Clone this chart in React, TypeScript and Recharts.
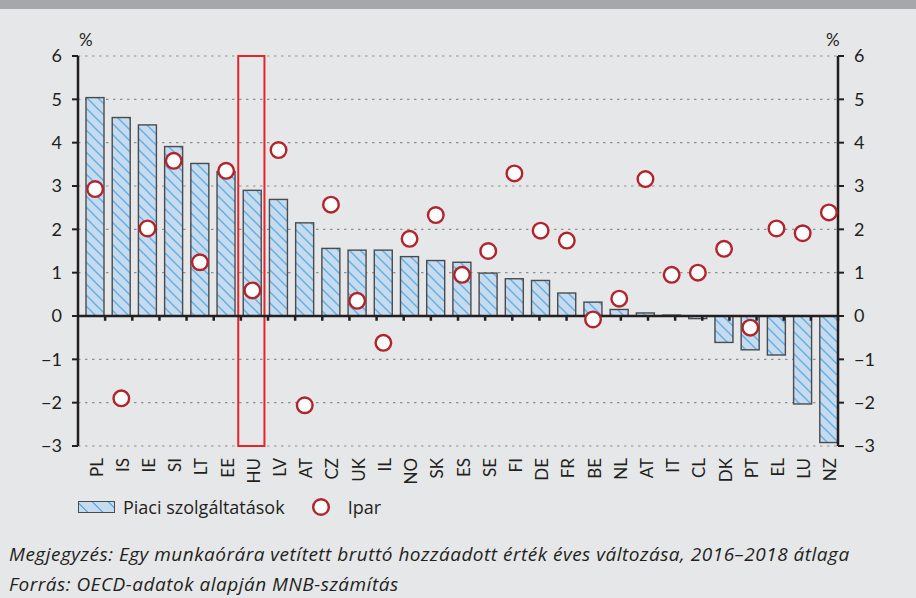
import React from 'react';
import {
  ComposedChart,
  Bar,
  Scatter,
  XAxis,
  YAxis,
  CartesianGrid,
  ReferenceLine,
  ReferenceArea,
} from 'recharts';

// ---- data ----
const categories = ['PL', 'IS', 'IE', 'SI', 'LT', 'EE', 'HU', 'LV', 'AT', 'CZ', 'UK', 'IL', 'NO', 'SK', 'ES', 'SE', 'FI', 'DE', 'FR', 'BE', 'NL', 'AT', 'IT', 'CL', 'DK', 'PT', 'EL', 'LU', 'NZ'];
const piaciSzolgaltatasok = [5.04, 4.58, 4.41, 3.91, 3.52, 3.33, 2.9, 2.69, 2.15, 1.56, 1.52, 1.52, 1.37, 1.28, 1.24, 0.99, 0.86, 0.82, 0.53, 0.32, 0.15, 0.07, 0.02, -0.06, -0.61, -0.78, -0.9, -2.03, -2.92];
const ipar = [2.93, -1.9, 2.02, 3.58, 1.24, 3.35, 0.59, 3.83, -2.06, 2.57, 0.35, -0.62, 1.78, 2.33, 0.95, 1.5, 3.29, 1.97, 1.74, -0.08, 0.4, 3.16, 0.95, 1.0, 1.55, -0.27, 2.02, 1.91, 2.39];
const yTicks = [-3, -2, -1, 0, 1, 2, 3, 4, 5, 6];
const highlighted = 'HU';
const legendLabels = ['Piaci szolgáltatások', 'Ipar'];
const noteText = 'Megjegyzés: Egy munkaórára vetített bruttó hozzáadott érték éves változása, 2016–2018 átlaga';
const sourceText = 'Forrás: OECD-adatok alapján MNB-számítás';

const data = categories.map((c, i) => ({
  key: i,
  name: c,
  piaci: piaciSzolgaltatasok[i],
  ipar: ipar[i],
}));
const boundaries = categories.slice(1).map((_, i) => i + 1);
const highlightIndex = categories.indexOf(highlighted);

// ---- styles ----
const FONT = 'Lato, "Noto Sans", sans-serif';
const TEXT_FONT = '"Open Sans", "Noto Sans", sans-serif';
const BG = '#e6e7e9';
const AXIS = '#231f20';
const SHIFT = 4;

const fmt = (v: number) => (v < 0 ? '\u2212' + Math.abs(v) : String(v));

const HatchBar = (props: any) => {
  const { x, y, width, height } = props;
  if (x == null || y == null) return null;
  const top = Math.min(y, y + height);
  const h = Math.abs(height);
  return (
    <rect x={x + SHIFT} y={top} width={width} height={h} fill="url(#hatch)" stroke="#4b4b4b" strokeWidth={1.4} />
  );
};

const Dot = (props: any) => {
  const { cx, cy } = props;
  if (cx == null || cy == null) return null;
  return <circle cx={cx + SHIFT} cy={cy} r={7.8} fill="#ffffff" stroke="#b3232b" strokeWidth={2.4} />;
};

const HighlightBox = (props: any) => {
  const { x, y, width, height } = props;
  return <rect x={x + 3} y={y} width={width} height={height} fill="none" stroke="#e4252c" strokeWidth={2} />;
};

const CountryTick = (props: any) => {
  const { x, y, payload } = props;
  const tx = x + 5;
  const ty = y + 12;
  return (
    <text
      x={tx}
      y={ty}
      transform={`rotate(-90 ${tx} ${ty})`}
      textAnchor="end"
      dominantBaseline="central"
      fontFamily={FONT}
      fontSize={17}
      fill={AXIS}
    >
      {categories[payload.value]}
    </text>
  );
};

export default function App() {
  return (
    <div style={{ position: 'absolute', left: 0, top: 0, width: 916, height: 598, background: BG, fontFamily: FONT, overflow: 'hidden' }}>
      <div style={{ position: 'absolute', left: 0, top: 0, width: 916, height: 9, background: '#a6a7ab' }} />
      <div style={{ position: 'absolute', left: 79, top: 30, fontSize: 17, lineHeight: '20px', color: AXIS }}>%</div>
      <div style={{ position: 'absolute', left: 826, top: 30, fontSize: 17, lineHeight: '20px', color: AXIS }}>%</div>
      <div style={{ position: 'absolute', left: 0, top: 0 }}>
        <ComposedChart width={916} height={500} data={data} margin={{ top: 56, right: 18, bottom: 0, left: 18 }} barSize={18}>
          <defs>
            <pattern id="hatch" patternUnits="userSpaceOnUse" width={11} height={11}>
              <rect x={0} y={0} width={11} height={11} fill="#c4dbf0" />
              <line x1={0} y1={0} x2={11} y2={11} stroke="#6aaddf" strokeWidth={1.5} />
              <line x1={-1} y1={10} x2={1} y2={12} stroke="#6aaddf" strokeWidth={1.5} />
              <line x1={10} y1={-1} x2={12} y2={1} stroke="#6aaddf" strokeWidth={1.5} />
            </pattern>
          </defs>
          <CartesianGrid xAxisId="cat" yAxisId="left" vertical={false} stroke="#8f9093" strokeDasharray="2.5 4.5" strokeWidth={1.2} />
          <XAxis
            xAxisId="cat"
            dataKey="key"
            type="category"
            height={54}
            axisLine={false}
            tickLine={false}
            tickSize={0}
            tickMargin={0}
            interval={0}
            tick={(p: any) => <CountryTick {...p} />}
          />
          <XAxis xAxisId="num" type="number" domain={[0, categories.length]} hide allowDataOverflow />
          <YAxis
            yAxisId="left"
            orientation="left"
            width={60}
            domain={[-3, 6]}
            ticks={yTicks}
            interval={0}
            tickFormatter={fmt}
            axisLine={{ stroke: AXIS, strokeWidth: 2.5 }}
            tickLine={{ stroke: AXIS, strokeWidth: 2 }}
            tickSize={6}
            tickMargin={10}
            tick={{ fontFamily: FONT, fontSize: 18, fill: AXIS }}
          />
          <YAxis
            yAxisId="right"
            orientation="right"
            width={60}
            domain={[-3, 6]}
            ticks={yTicks}
            interval={0}
            tickFormatter={fmt}
            axisLine={{ stroke: AXIS, strokeWidth: 2.5 }}
            tickLine={{ stroke: AXIS, strokeWidth: 2 }}
            tickSize={6}
            tickMargin={10}
            tick={{ fontFamily: FONT, fontSize: 18, fill: AXIS }}
          />
          <Bar xAxisId="cat" yAxisId="left" dataKey="piaci" isAnimationActive={false} shape={(p: any) => <HatchBar {...p} />} />
          <ReferenceLine xAxisId="cat" yAxisId="left" y={0} stroke={AXIS} strokeWidth={2.5} />
          {boundaries.map((b) => (
            <ReferenceLine
              key={b}
              xAxisId="num"
              yAxisId="left"
              segment={[{ x: b, y: 0 }, { x: b, y: -0.11 }]}
              stroke={AXIS}
              strokeWidth={2.5}
            />
          ))}
          <ReferenceArea
            xAxisId="cat"
            yAxisId="left"
            x1={highlightIndex}
            x2={highlightIndex}
            y1={-3}
            y2={6}
            shape={(p: any) => <HighlightBox {...p} />}
          />
          <Scatter xAxisId="cat" yAxisId="right" dataKey="ipar" isAnimationActive={false} shape={(p: any) => <Dot {...p} />} />
        </ComposedChart>
      </div>
      {/* legend */}
      <div style={{ position: 'absolute', left: 78, top: 495, height: 24, display: 'flex', alignItems: 'center', fontFamily: TEXT_FONT, fontSize: 18, color: AXIS }}>
        <span
          style={{
            display: 'inline-block',
            width: 35,
            height: 10,
            border: '1px solid #4b4b4b',
            background: 'repeating-linear-gradient(45deg, #c4dbf0 0px, #c4dbf0 5px, #6aaddf 5px, #6aaddf 6.5px, #c4dbf0 6.5px, #c4dbf0 11px)',
          }}
        />
        <span style={{ marginLeft: 8 }}>{legendLabels[0]}</span>
        <svg width={20} height={20} style={{ marginLeft: 26 }}>
          <circle cx={10} cy={10} r={7.8} fill="#fff" stroke="#b3232b" strokeWidth={2.4} />
        </svg>
        <span style={{ marginLeft: 17 }}>{legendLabels[1]}</span>
      </div>
      <div style={{ position: 'absolute', left: 9, top: 539, fontFamily: TEXT_FONT, fontSize: 19, lineHeight: '30px', letterSpacing: 0.5, fontStyle: 'italic', color: AXIS, whiteSpace: 'nowrap' }}>
        <div>{noteText}</div>
        <div>{sourceText}</div>
      </div>
    </div>
  );
}
